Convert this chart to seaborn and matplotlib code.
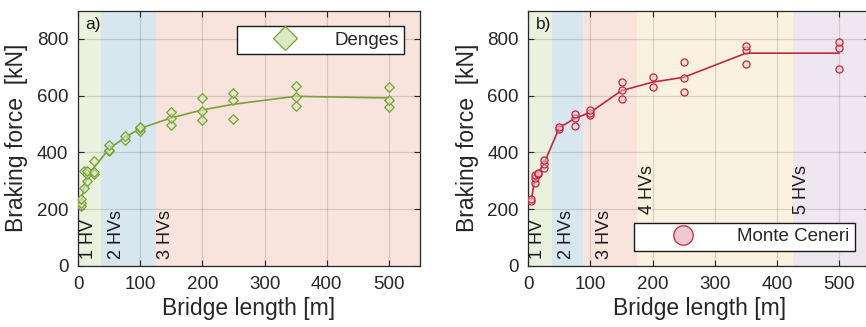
import numpy as np
import pandas as pd
import matplotlib
matplotlib.use("Agg")
import matplotlib.pyplot as plt
import seaborn as sns
from matplotlib.lines import Line2D

# ---------------- data ----------------
# Denges (panel a): individual simulations
den_x = [5, 5, 5, 10, 10, 15, 15, 15, 25, 25, 25,
         50, 50, 50, 75, 75, 100, 100, 100,
         150, 150, 150, 200, 200, 200, 250, 250, 250,
         350, 350, 350, 500, 500, 500]
den_y = [212, 222, 235, 275, 335, 300, 325, 335, 325, 332, 370,
         405, 410, 425, 444, 459, 476, 485, 490,
         497, 520, 544, 514, 547, 593, 518, 585, 611,
         564, 597, 635, 561, 585, 630]
# Denges mean curve
den_line_x = [5, 10, 15, 25, 50, 75, 100, 150, 200, 250, 350, 500]
den_line_y = [225, 280, 318, 345, 413, 452, 485, 522, 550, 570, 598, 592]

# Monte Ceneri (panel b)
mc_x = [5, 5, 10, 10, 10, 15, 15, 25, 25, 25,
        50, 50, 75, 75, 75, 100, 100, 100,
        150, 150, 150, 200, 200, 250, 250, 250,
        350, 350, 350, 500, 500, 500]
mc_y = [230, 237, 293, 309, 320, 324, 329, 344, 358, 373,
        483, 491, 494, 523, 537, 532, 540, 550,
        587, 619, 647, 631, 665, 613, 664, 720,
        713, 761, 775, 695, 767, 788]
mc_line_x = [5, 10, 15, 25, 50, 75, 100, 150, 200, 250, 350, 500]
mc_line_y = [235, 300, 325, 360, 488, 520, 542, 618, 648, 665, 750, 750]

# Heavy-vehicle regions (bridge length ranges)
bands_a = [(0, 37.5), (37.5, 125), (125, 550)]
bands_b = [(0, 37.5), (37.5, 87.5), (87.5, 175), (175, 425), (425, 550)]
band_labels_a = ["1 HV", "2 HVs", "3 HVs"]
band_labels_b = ["1 HV", "2 HVs", "3 HVs", "4 HVs", "5 HVs"]

band_colors = ["#eaf1df", "#d7e6ef", "#f8e3dd", "#faf2de", "#eee7ef"]

df_den = pd.DataFrame({"length": den_x, "force": den_y})
df_den_line = pd.DataFrame({"length": den_line_x, "force": den_line_y})
df_mc = pd.DataFrame({"length": mc_x, "force": mc_y})
df_mc_line = pd.DataFrame({"length": mc_line_x, "force": mc_line_y})

# ---------------- style ----------------
sns.set_style("ticks")
plt.rcParams["font.family"] = ["Liberation Sans", "DejaVu Sans"]

fig = plt.figure(figsize=(8.66, 3.27), dpi=100)
W, H = 866, 327
ax_a = fig.add_axes([78 / W, 61 / H, 342 / W, 255.4 / H])
ax_b = fig.add_axes([528.3 / W, 61 / H, 342 / W, 255.4 / H])

green = "#78a336"
green_face = "#dbe9c4"
red = "#c0283f"
red_face = "#f0c8cf"


def setup(ax, bands, labels, label_x, label_y, tag):
    for (x0, x1), c in zip(bands, band_colors):
        ax.axvspan(x0, x1, color=c, zorder=0, lw=0)
    ax.set_xlim(0, 550)
    ax.set_ylim(0, 900)
    ax.set_xticks([0, 100, 200, 300, 400, 500])
    ax.set_yticks([0, 200, 400, 600, 800])
    ax.grid(True, color="#000000", alpha=0.13, lw=0.9, zorder=0.5)
    ax.set_axisbelow(True)
    ax.tick_params(direction="in", top=True, right=True, length=4,
                   width=0.8, labelsize=13.5, color="#262626", pad=7)
    for s in ax.spines.values():
        s.set_color("#262626")
        s.set_linewidth(0.9)
    for t, lx, ly in zip(labels, label_x, label_y):
        ax.text(lx, ly, t, rotation=90, ha="center", va="bottom",
                fontsize=13, color="#1a1a1a", zorder=3)
    ax.text(0.022, 0.975, tag, transform=ax.transAxes, ha="left", va="top",
            fontsize=12.5, color="#1a1a1a")


setup(ax_a, bands_a, band_labels_a, [17, 62, 141], [25, 25, 25], "a)")
setup(ax_b, bands_b, band_labels_b, [14, 61, 122, 191, 440],
      [25, 25, 25, 183, 183], "b)")

# Panel a
sns.lineplot(data=df_den_line, x="length", y="force", ax=ax_a, color=green,
             lw=1.2, zorder=3)
sns.scatterplot(data=df_den, x="length", y="force", ax=ax_a, marker="D",
                s=24, facecolor=(0.86, 0.91, 0.77, 0.6), edgecolor=green,
                linewidth=0.9, zorder=4)

# Panel b
sns.lineplot(data=df_mc_line, x="length", y="force", ax=ax_b, color=red,
             lw=1.2, zorder=3)
sns.scatterplot(data=df_mc, x="length", y="force", ax=ax_b, marker="o",
                s=26, facecolor=(0.94, 0.78, 0.81, 0.5), edgecolor=red,
                linewidth=0.9, zorder=4)

for ax in (ax_a, ax_b):
    ax.set_xlabel("Bridge length [m]", fontsize=16.5, labelpad=3)
    ax.set_ylabel("Braking force  [kN]", fontsize=16.5, labelpad=6)

h_a = Line2D([], [], marker="D", ls="none", markersize=12,
             markerfacecolor=green_face, markeredgecolor=green, markeredgewidth=0.9)
h_b = Line2D([], [], marker="o", ls="none", markersize=14,
             markerfacecolor=red_face, markeredgecolor=red, markeredgewidth=0.9)

leg_a = ax_a.legend([h_a], ["Denges"], loc="upper right",
                    bbox_to_anchor=((404 - 78) / 342, (266 - 26) / 255.4),
                    borderaxespad=0, fontsize=13.5, handlelength=4.6,
                    handletextpad=0.3, borderpad=0.3, fancybox=False,
                    framealpha=1, edgecolor="#1a1a1a")
leg_a.get_frame().set_linewidth(1.0)
leg_b = ax_b.legend([h_b], ["Monte Ceneri"], loc="lower right",
                    bbox_to_anchor=((855 - 528.3) / 342, (266 - 251) / 255.4),
                    borderaxespad=0, fontsize=13.5, handlelength=4.6,
                    handletextpad=0.6, borderpad=0.3, fancybox=False,
                    framealpha=1, edgecolor="#1a1a1a")
leg_b.get_frame().set_linewidth(1.0)

fig.savefig("out.png", dpi=100)
